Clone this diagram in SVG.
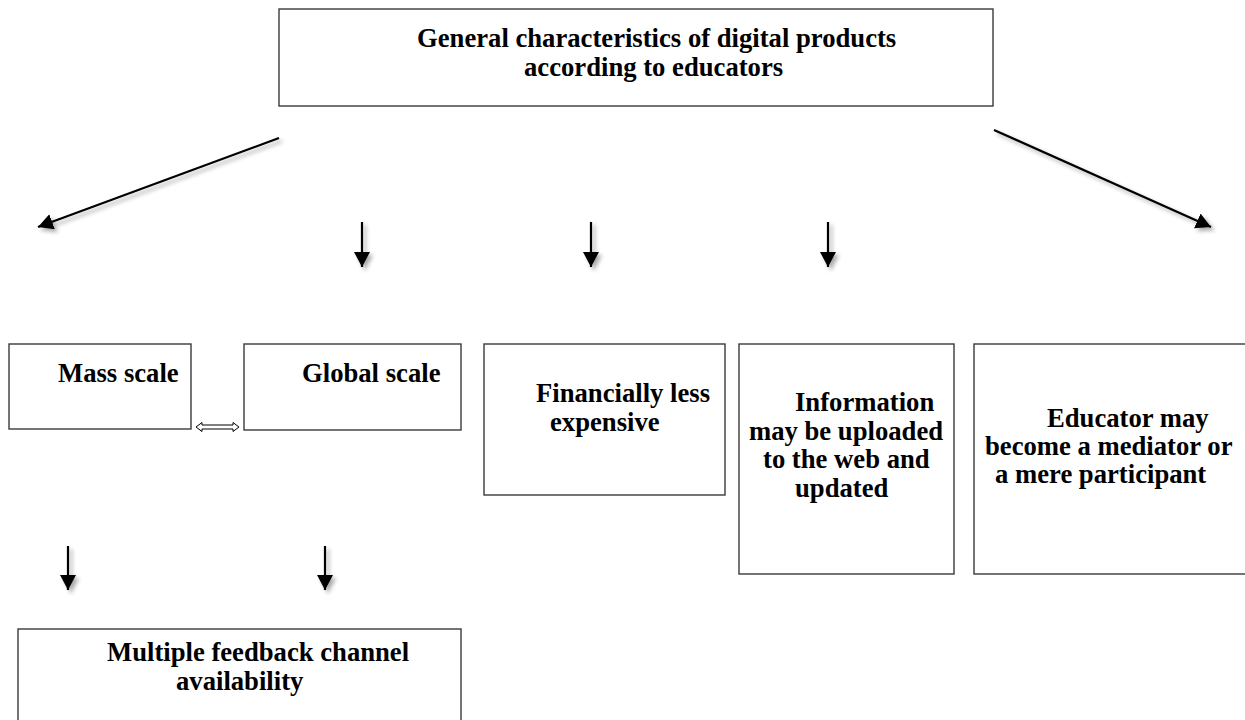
<svg xmlns="http://www.w3.org/2000/svg" width="1245" height="720" viewBox="0 0 1245 720">
  <style>
    .box { fill: #ffffff; stroke: #3a3a3a; stroke-width: 1.4; }
    .lbl { font-family: "Liberation Serif", "Times New Roman", serif; font-weight: bold; font-size: 26.67px; fill: #000000; }
    .arr { stroke: #000000; stroke-width: 2.2; fill: none; marker-end: url(#head); }
  </style>
  <defs>
    <marker id="head" markerUnits="userSpaceOnUse" markerWidth="18" markerHeight="18" refX="15" refY="8" orient="auto">
      <path d="M0,0 L15,8 L0,16 Z" fill="#000000"/>
    </marker>
    <filter id="shadow" x="-50%" y="-50%" width="200%" height="200%">
      <feGaussianBlur in="SourceAlpha" stdDeviation="2"/>
      <feOffset dx="3" dy="3" result="b"/>
      <feComponentTransfer><feFuncA type="linear" slope="0.35"/></feComponentTransfer>
      <feMerge><feMergeNode/><feMergeNode in="SourceGraphic"/></feMerge>
    </filter>
  </defs>
  <rect width="1245" height="720" fill="#ffffff"/>

  <g id="connectors" filter="url(#shadow)">
    <line class="arr" x1="279" y1="138" x2="38" y2="227"/>
    <line class="arr" x1="994" y1="130" x2="1211" y2="227"/>
    <line class="arr" x1="362" y1="222" x2="362" y2="267"/>
    <line class="arr" x1="591" y1="222" x2="591" y2="267"/>
    <line class="arr" x1="828" y1="222" x2="828" y2="267"/>
    <line class="arr" x1="68" y1="546" x2="68" y2="590"/>
    <line class="arr" x1="325" y1="546" x2="325" y2="590"/>
  </g>
  <g id="double-arrow">
    <path d="M196,427 L202,422.5 L202,425 L233,425 L233,422.5 L239,427 L233,431.5 L233,429 L202,429 L202,431.5 Z" fill="#ffffff" stroke="#000000" stroke-width="1"/>
  </g>

  <g id="node-top">
    <rect class="box" x="279" y="9" width="714" height="97"/>
    <text class="lbl" x="417" y="47">General characteristics of digital products</text>
    <text class="lbl" x="524" y="76">according to educators</text>
  </g>
  <g id="node-mass">
    <rect class="box" x="9" y="344" width="182" height="85"/>
    <text class="lbl" x="58" y="382">Mass scale</text>
  </g>
  <g id="node-global">
    <rect class="box" x="244" y="344" width="217" height="86"/>
    <text class="lbl" x="302" y="382">Global scale</text>
  </g>
  <g id="node-financial">
    <rect class="box" x="484" y="344" width="241" height="151"/>
    <text class="lbl" x="536" y="402">Financially less</text>
    <text class="lbl" x="550" y="431">expensive</text>
  </g>
  <g id="node-information">
    <rect class="box" x="739" y="344" width="215" height="230"/>
    <text class="lbl" x="795" y="411">Information</text>
    <text class="lbl" x="749" y="440">may be uploaded</text>
    <text class="lbl" x="763" y="468">to the web and</text>
    <text class="lbl" x="795" y="497">updated</text>
  </g>
  <g id="node-educator">
    <rect class="box" x="974" y="344" width="290" height="230"/>
    <text class="lbl" x="1047" y="427">Educator may</text>
    <text class="lbl" x="985" y="455">become a mediator or</text>
    <text class="lbl" x="995" y="483">a mere participant</text>
  </g>
  <g id="node-feedback">
    <rect class="box" x="18" y="629" width="443" height="110"/>
    <text class="lbl" x="107" y="661">Multiple feedback channel</text>
    <text class="lbl" x="176" y="690">availability</text>
  </g>
</svg>
